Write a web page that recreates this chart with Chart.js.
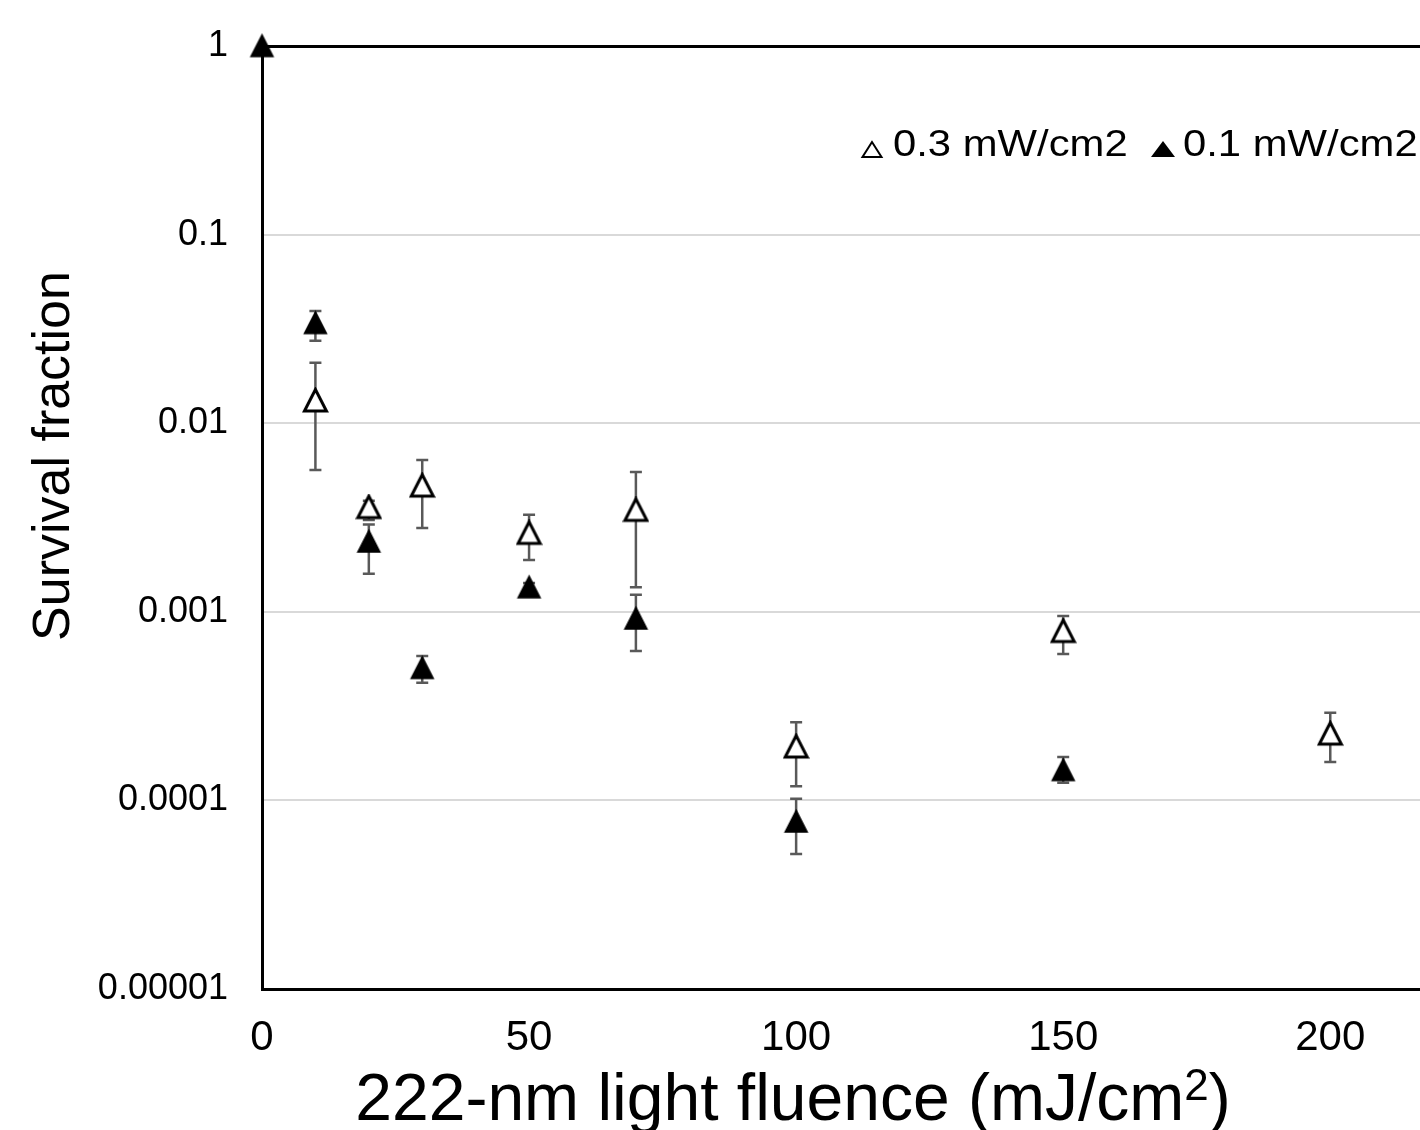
<!DOCTYPE html>
<html lang="en">
<head>
<meta charset="UTF-8">
<title>Survival fraction vs 222-nm fluence</title>
<script src="https://cdn.jsdelivr.net/npm/chart.js"></script>
<style>
  html, body { margin:0; padding:0; background:#fff; }
  #wrap { width:1420px; height:1130px; }
</style>
</head>
<body>
<div id="wrap"><canvas id="survChart" width="1420" height="1130"></canvas></div>

<script>
// ---- data ----
const seriesLabels = ["0.3 mW/cm2", "0.1 mW/cm2"];

// 0.3 mW/cm2 (open triangles)
const openX  = [10, 20, 30, 50, 70, 100, 150, 200];
const openY  = [0.0132, 0.00359, 0.00467, 0.00262, 0.00347, 0.000193, 0.000791, 0.000226];
const openHi = [0.0209, 0.00388, 0.00638, 0.00327, 0.00551, 0.00026, 0.00095, 0.000292];
const openLo = [0.00565, 0.00307, 0.00278, 0.00188, 0.00135, 0.000119, 0.000597, 0.00016];

// 0.1 mW/cm2 (filled triangles)
const filledX  = [0, 10, 20, 30, 50, 70, 100, 150];
const filledY  = [1, 0.034, 0.00236, 0.000504, 0.00135, 0.000922, 0.0000773, 0.000145];
const filledHi = [null, 0.0394, 0.0029, 0.000583, 0.00142, 0.00123, 0.000102, 0.00017];
const filledLo = [null, 0.0274, 0.00159, 0.000421, 0.00128, 0.00062, 0.000052, 0.000124];

const xTicks = [0, 50, 100, 150, 200];
const yTicks = [0.00001, 0.0001, 0.001, 0.01, 0.1, 1];
const yTickLabels = ["0.00001", "0.0001", "0.001", "0.01", "0.1", "1"];

const xTitle = "222-nm light fluence (mJ/cm";
const xTitleSup = "2";
const yTitle = "Survival fraction";

const FONT = '"Liberation Sans", Arial, sans-serif';

// triangle markers, centred in their own box
function makeTri(filled){
    const c = document.createElement("canvas");
    c.width = 27; c.height = 27;
    const g = c.getContext("2d");
    g.beginPath();
    g.moveTo(13.5, 2.5);
    g.lineTo(2.5, 24);
    g.lineTo(24.5, 24);
    g.closePath();
    if(filled){
        g.fillStyle = "#000";
        g.fill();
        g.lineWidth = 1.5; g.strokeStyle = "#000"; g.stroke();
    }else{
        g.fillStyle = "#fff";
        g.fill();
        g.lineWidth = 3; g.strokeStyle = "#000"; g.lineJoin = "miter"; g.stroke();
    }
    return c;
}
const openTri = makeTri(false);
const filledTri = makeTri(true);

function pts(xs, ys){ return xs.map((x,i)=>({x:x, y:ys[i]})); }

const errData = [
    {xs:openX, hi:openHi, lo:openLo},
    {xs:filledX, hi:filledHi, lo:filledLo}
];

const errorBars = {
    id:"errorBars",
    beforeDatasetsDraw(chart){
        const ctx = chart.ctx, xs = chart.scales.x, ys = chart.scales.y;
        ctx.save();
        ctx.strokeStyle = "#595959";
        ctx.lineWidth = 2.5;
        errData.forEach(s=>{
            s.xs.forEach((x,i)=>{
                if(s.hi[i]==null) return;
                const px = xs.getPixelForValue(x);
                const top = ys.getPixelForValue(s.hi[i]);
                const bot = ys.getPixelForValue(s.lo[i]);
                ctx.beginPath();
                ctx.moveTo(px, top); ctx.lineTo(px, bot);
                ctx.moveTo(px-6, top); ctx.lineTo(px+6, top);
                ctx.moveTo(px-6, bot); ctx.lineTo(px+6, bot);
                ctx.stroke();
            });
        });
        ctx.restore();
    }
};

const labelsPlugin = {
    id:"labelsPlugin",
    afterDraw(chart){
        const ctx = chart.ctx, a = chart.chartArea;
        ctx.save();
        ctx.fillStyle = "#000";

        // legend (its text is a little stretched sideways in the figure)
        ctx.textBaseline = "alphabetic";
        const ly = a.top + 110;
        let lx = a.left + 599;
        ctx.beginPath();
        ctx.moveTo(lx+11, ly-14); ctx.lineTo(lx+1.5, ly+1); ctx.lineTo(lx+20.5, ly+1); ctx.closePath();
        ctx.lineWidth = 2; ctx.strokeStyle = "#000"; ctx.stroke();
        ctx.save();
        ctx.translate(a.left + 631, ly); ctx.scale(1.13, 1);
        ctx.font = "37px " + FONT;
        ctx.fillText(seriesLabels[0], 0, 0);
        ctx.restore();
        lx = a.left + 889;
        ctx.beginPath();
        ctx.moveTo(lx+12, ly-15); ctx.lineTo(lx, ly+1); ctx.lineTo(lx+24, ly+1); ctx.closePath();
        ctx.fill();
        ctx.save();
        ctx.translate(a.left + 921, ly); ctx.scale(1.13, 1);
        ctx.font = "37px " + FONT;
        ctx.fillText(seriesLabels[1], 0, 0);
        ctx.restore();

        // x title with superscript
        ctx.font = "66px " + FONT;
        const w1 = ctx.measureText(xTitle).width;
        ctx.font = "44px " + FONT;
        const w2 = ctx.measureText(xTitleSup).width;
        ctx.font = "66px " + FONT;
        const w3 = ctx.measureText(")").width;
        const tot = w1 + w2 + w3;
        let tx = a.left + 531 - tot/2;
        const by = a.bottom + 131;
        ctx.textAlign = "left";
        ctx.fillText(xTitle, tx, by);
        ctx.font = "44px " + FONT;
        ctx.fillText(xTitleSup, tx + w1, by - 20);
        ctx.font = "66px " + FONT;
        ctx.fillText(")", tx + w1 + w2, by);

        // y title
        ctx.translate(55, a.top + 410);
        ctx.rotate(-Math.PI/2);
        ctx.font = "52px " + FONT;
        ctx.textAlign = "center";
        ctx.textBaseline = "middle";
        ctx.fillText(yTitle, 0, 0);
        ctx.restore();
    }
};

const chart = new Chart(document.getElementById("survChart").getContext("2d"), {
    type:"scatter",
    data:{
        datasets:[
            {label:seriesLabels[0], data:pts(openX, openY), pointStyle:openTri, pointRadius:12, showLine:false, clip:false},
            {label:seriesLabels[1], data:pts(filledX, filledY), pointStyle:filledTri, pointRadius:12, showLine:false, clip:false}
        ]
    },
    options:{
        responsive:false,
        devicePixelRatio:1,
        animation:false,
        layout:{ autoPadding:false, padding:{top:46, right:0, bottom:0, left:0} },
        plugins:{ legend:{display:false}, tooltip:{enabled:false} },
        scales:{
            x:{
                type:"linear",
                min:0, max:216.8,
                afterFit(s){ s.height = 141; s.paddingLeft = 0; s.paddingRight = 0; },
                afterBuildTicks(s){ s.ticks = xTicks.map(v=>({value:v})); },
                grid:{ display:false, drawTicks:false },
                border:{ display:true, color:"#000", width:3 },
                ticks:{ padding:24, color:"#000", font:{family:FONT, size:42}, maxRotation:0, autoSkip:false }
            },
            y:{
                type:"logarithmic",
                min:0.00001, max:1,
                afterFit(s){ s.width = 262; s.paddingTop = 0; s.paddingBottom = 0; },
                afterBuildTicks(s){ s.ticks = yTicks.map(v=>({value:v})); },
                grid:{
                    drawTicks:false,
                    color(c){
                        if(!c.tick) return "transparent";
                        if(c.tick.value === 1) return "#000";
                        if(c.tick.value === 0.00001) return "transparent";
                        return "#d9d9d9";
                    },
                    lineWidth(c){ return (c.tick && c.tick.value === 1) ? 3 : 2; }
                },
                border:{ display:true, color:"#000", width:3 },
                ticks:{
                    padding:34, color:"#000", font:{family:FONT, size:36}, autoSkip:false,
                    callback(v){ const i = yTicks.indexOf(v); return i >= 0 ? yTickLabels[i] : ""; }
                }
            }
        }
    },
    plugins:[errorBars, labelsPlugin]
});
</script>
</body>
</html>
